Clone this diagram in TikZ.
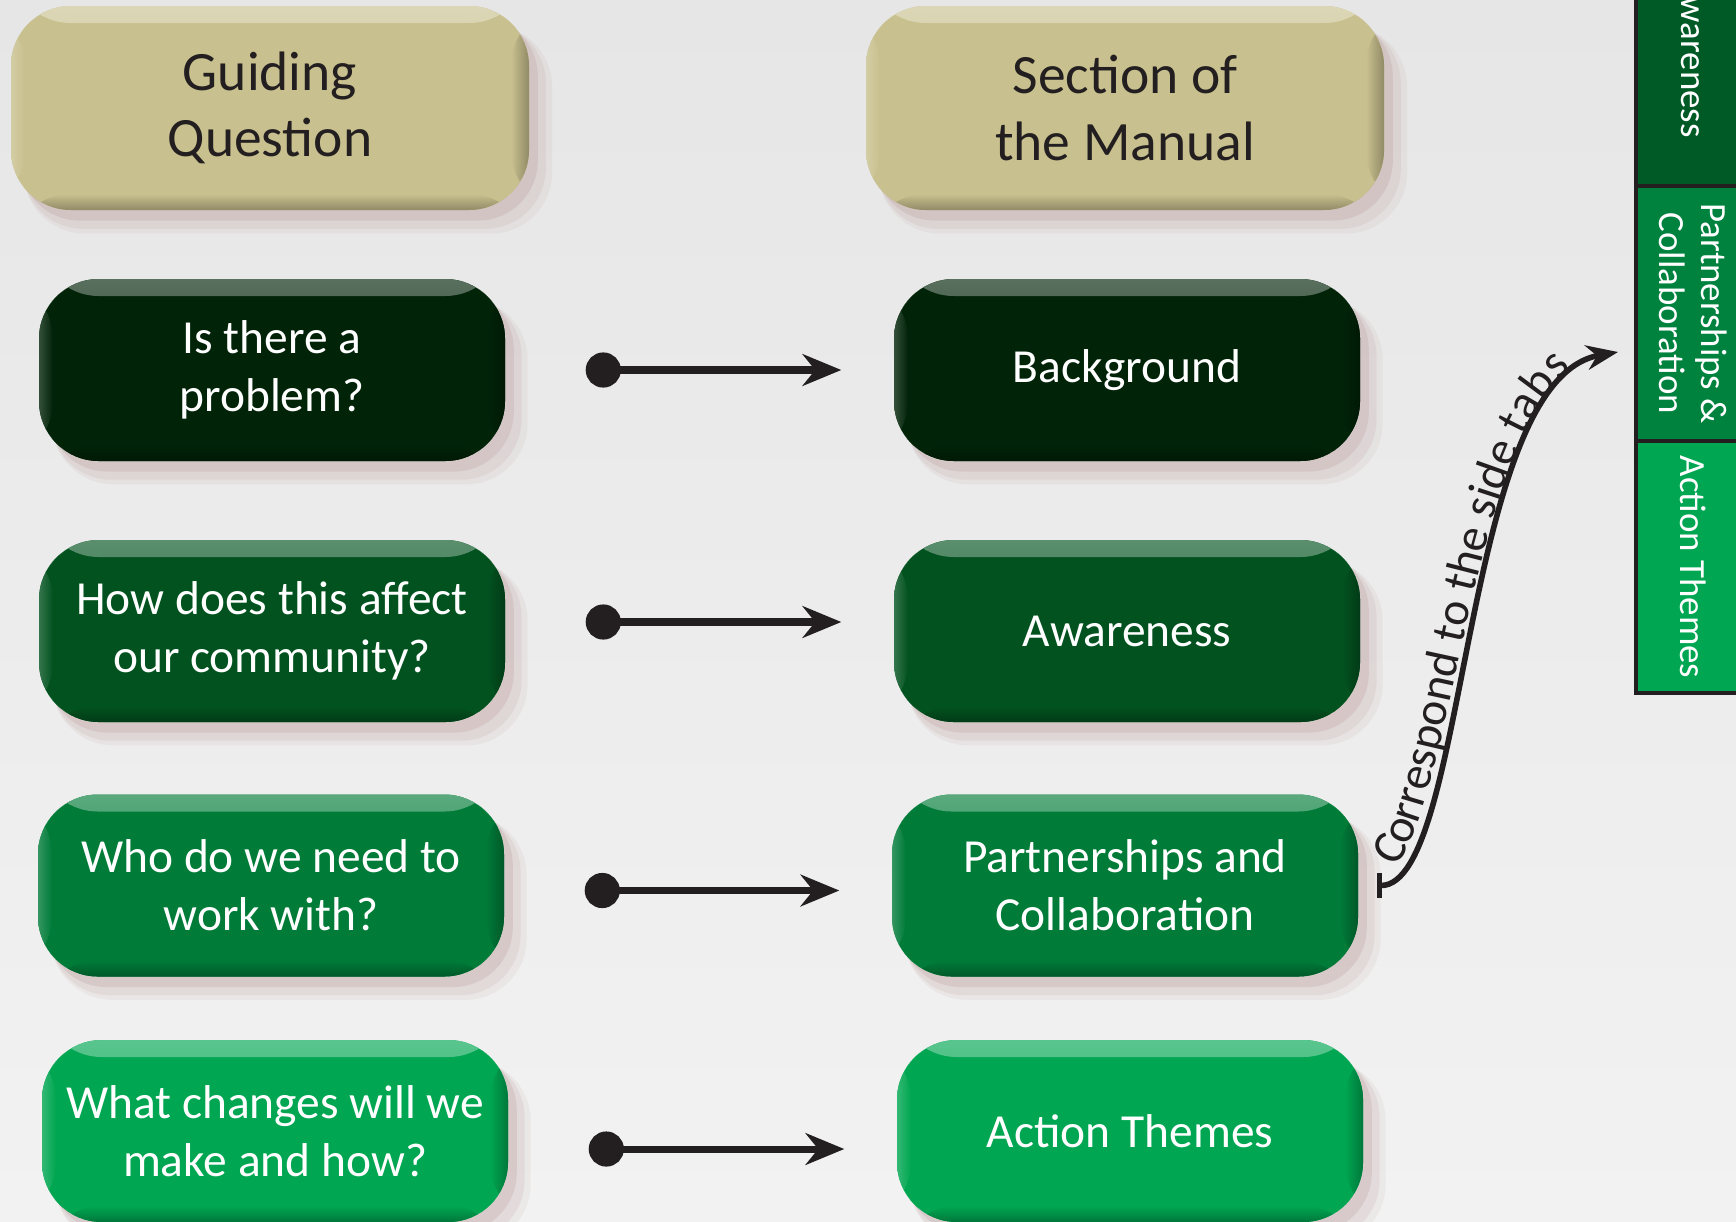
\documentclass[tikz,border=0pt]{standalone}
\usepackage{fontspec}
\setmainfont{Carlito}
\usetikzlibrary{arrows.meta,shadows,decorations.text}

\definecolor{paper}{HTML}{F2F2F2}
\definecolor{paperdark}{HTML}{E6E6E6}
\definecolor{ink}{HTML}{231F20}
\definecolor{tan}{HTML}{C8C08E}
\definecolor{rosy}{HTML}{BFA0A0}
\definecolor{rowone}{HTML}{012308}
\definecolor{rowtwo}{HTML}{02521F}
\definecolor{rowthree}{HTML}{007B38}
\definecolor{rowfour}{HTML}{00A651}
\definecolor{tabone}{HTML}{005A26}
\definecolor{tabtwo}{HTML}{00823F}
\definecolor{tabthree}{HTML}{00A651}

\tikzset{
	pill/.style={rounded corners=17pt, fill=#1, align=center,
		drop shadow={shadow xshift=5pt, shadow yshift=-6pt, shadow scale=1.02, fill=rosy, opacity=.12},
		drop shadow={shadow xshift=4pt, shadow yshift=-5pt, shadow scale=1.01, fill=rosy, opacity=.18},
		drop shadow={shadow xshift=2.5pt, shadow yshift=-3pt, fill=rosy, opacity=.28},
		path picture={
			\shade[top color=#1!65!white, bottom color=#1]
				(path picture bounding box.north west) rectangle ([yshift=-.17cm]path picture bounding box.north east);
			\shade[left color=#1!80!white, right color=#1]
				(path picture bounding box.north west) rectangle ([xshift=.14cm]path picture bounding box.south west);
			\shade[left color=#1, right color=#1!72!black]
				([xshift=-.18cm]path picture bounding box.north east) rectangle (path picture bounding box.south east);
			\shade[top color=#1, bottom color=#1!72!black]
				([yshift=.16cm]path picture bounding box.south west) rectangle (path picture bounding box.south east);
		}},
	head/.style={pill=tan, minimum width=5.18cm, minimum height=2.04cm, text=ink, font=\fontsize{15.8}{19}\selectfont},
	ask/.style={pill=#1, minimum width=4.66cm, minimum height=1.82cm, text=white, font=\fontsize{13.5}{16.5}\selectfont},
	tab/.style={draw=ink, line width=1pt, fill=#1, text=white, rotate=-90, minimum height=1.14cm,
		align=center, font=\fontsize{10.5}{12}\selectfont},
	link/.style={{Circle[length=10pt]}-{Stealth[length=11pt,width=9pt]}, line width=2pt, draw=ink,
		shorten <=.8cm, shorten >=.52cm},
	note/.style={{Bar[width=7pt]}-{Stealth[length=9pt,width=7pt]}, line width=1.6pt, draw=ink}
}

\begin{document}
\begin{tikzpicture}
	\useasboundingbox (0,0) rectangle (17.36,-12.21);
	\clip (0,0) rectangle (17.36,-12.21);
	\shade[top color=paperdark, bottom color=paper] (0,0) rectangle (17.36,-12.21);

	% side tabs
	\node[tab=tabone, minimum width=2.59cm] (t1) at (16.93,-0.565) {Awareness};
	\node[tab=tabtwo, minimum width=2.55cm] (t2) at (16.93,-3.135) {Partnerships \&\\Collaboration};
	\node[tab=tabthree, minimum width=2.52cm] (t3) at (16.93,-5.67) {Action Themes};

	\node[head] (hq) at (2.70,-1.08) {Guiding\\Question};
	\node[head] (hs) at (11.25,-1.08) {Section of\\the Manual};

	\node[ask=rowone] (q1) at (2.72,-3.70) {Is there a\\problem?};
	\node[ask=rowone] (s1) at (11.27,-3.70) {Background};
	\node[ask=rowtwo] (q2) at (2.72,-6.31) {How does this affect\\our community?};
	\node[ask=rowtwo] (s2) at (11.27,-6.31) {Awareness};
	\node[ask=rowthree] (q3) at (2.71,-8.855) {Who do we need to\\work with?};
	\node[ask=rowthree] (s3) at (11.25,-8.855) {Partnerships and\\Collaboration};
	\node[ask=rowfour] (q4) at (2.75,-11.31) {What changes will we\\make and how?};
	\node[ask=rowfour] (s4) at (11.30,-11.31) {Action Themes};

	\foreach \i/\dy in {1/0, 2/0.09, 3/-0.05, 4/-0.18}
		\draw[link] ([yshift=\dy cm]q\i.east) -- ([yshift=\dy cm]s\i.west);

	\coordinate (tip) at (16.18,-3.52);
	\draw[note] ([xshift=.18cm]s3.east) .. controls +(0.92,0) and +(-1.58,-0.28) .. (tip);
	\path[decorate, decoration={text along path, text color=ink, raise=2pt,
			text={|\fontsize{13.5}{13.5}\selectfont|Correspond to the side tabs}, text align={left indent=.3cm}}]
		([xshift=.18cm]s3.east) .. controls +(0.92,0) and +(-1.58,-0.28) .. (tip);

	\node[text=gray!70, anchor=north, font=\fontsize{10}{10}\selectfont] (pg) at (16.47,-12.10) {v};
\end{tikzpicture}
\end{document}
